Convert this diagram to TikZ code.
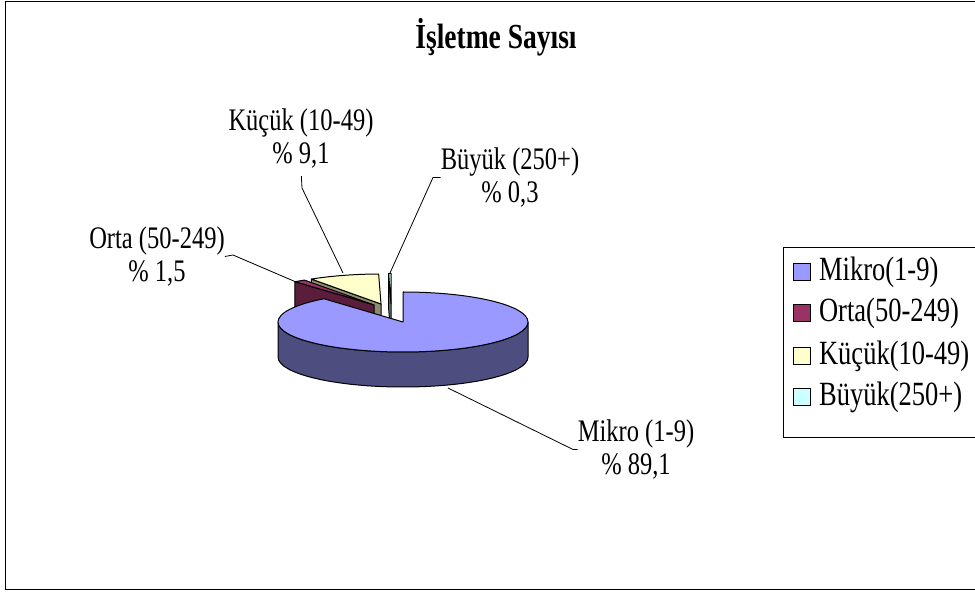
\documentclass[tikz,border=0pt]{standalone}
\usepackage{fontspec}
\setmainfont{Liberation Serif}
\usetikzlibrary{positioning}

\definecolor{mikroTop}{HTML}{9999FF}
\definecolor{mikroSide}{HTML}{4D4D80}
\definecolor{ortaTop}{HTML}{993366}
\definecolor{ortaSide}{HTML}{5A1D3C}
\definecolor{kucukTop}{HTML}{FFFFCC}
\definecolor{kucukSide}{HTML}{8C8C6E}
\definecolor{buyukTop}{HTML}{CCFFFF}
\definecolor{buyukSide}{HTML}{668080}

\begin{document}
\begin{tikzpicture}[x=1pt, y=1pt]
  \tikzstyle{slice} = [draw=black, line width=1pt, line join=round];
  \tikzstyle{leader} = [black, line width=0.8pt];
  \tikzstyle{dataLabel} = [font={\fontsize{24.5}{25.8}\selectfont}, align=center, inner sep=0pt, yscale=1.28, transform shape];
  \tikzstyle{legendKey} = [draw, line width=0.8pt, minimum size=17pt, inner sep=0pt];
  \tikzstyle{legendText} = [font={\fontsize{26.5}{28}\selectfont}, inner sep=0pt, yscale=1.28, transform shape];

  \useasboundingbox (0,0) rectangle (975,592);
  \draw[line width=1.2pt] (5.5,2.5) rectangle (990,590.5);

  \node[font={\bfseries\fontsize{27.5}{30}\selectfont}, yscale=1.28, transform shape] (title) at (496,555) {İşletme Sayısı};

  \coordinate (kucukTip) at (381,288);
  \coordinate (buyukTip) at (391,288.5);
  \coordinate (ortaTip)  at (374,287);
  \coordinate (mikroTip) at (403,270);

  \filldraw[slice, fill=kucukSide] (kucukTip) -- ++(123.84:125 and 30) -- ++(0,-35) -- ++(303.84:125 and 30) -- cycle;
  \filldraw[slice, fill=kucukTop] (kucukTip) -- ++(91.08:125 and 30) arc[start angle=91.08, end angle=123.84, x radius=125, y radius=30] -- cycle;

  \filldraw[slice, fill=buyukSide] (buyukTip) -- ++(91.08:125 and 30) -- ++(0,-35) -- ++(271.08:125 and 30) -- cycle;
  \filldraw[slice, fill=buyukTop] (buyukTip) -- ++(90:125 and 30) arc[start angle=90, end angle=91.08, x radius=125, y radius=30] -- cycle;

  \filldraw[slice, fill=ortaTop] (ortaTip) -- ++(123.84:125 and 30) arc[start angle=123.84, end angle=129.24, x radius=125, y radius=30] -- cycle;
  \filldraw[slice, fill=ortaSide] (ortaTip) -- ++(129.24:125 and 30) -- ++(0,-35) -- ++(309.24:125 and 30) -- cycle;

  \filldraw[slice, fill=mikroSide] (mikroTip) ++(-125,0) arc[start angle=180, end angle=360, x radius=125, y radius=30] -- ++(0,-35) arc[start angle=360, end angle=180, x radius=125, y radius=30] -- cycle;
  \filldraw[slice, fill=mikroTop] (mikroTip) -- ++(0,30) arc[start angle=90, end angle=-230.76, x radius=125, y radius=30] -- cycle;

  \node[dataLabel] (mikroLbl) at (636,142.5) {Mikro (1-9)\\\% 89,1};
  \node[dataLabel] (buyukLbl) at (510,414.5) {Büyük (250+)\\\% 0,3};
  \node[dataLabel] (kucukLbl) at (301,453) {Küçük (10-49)\\\% 9,1};
  \node[dataLabel] (ortaLbl)  at (157,335.5) {Orta (50-249)\\\% 1,5};

  \coordinate (mikroPt) at (448,204);
  \coordinate (mikroBend) at (573,142.5);
  \coordinate (buyukPt) at (390,319);
  \coordinate (buyukBend) at (433,414.5);
  \coordinate (kucukPt) at (343,319);
  \coordinate (kucukBend) at (302,404);
  \coordinate (ortaPt) at (296,310);
  \coordinate (ortaBend) at (233,337);

  \draw[leader] (mikroPt) -- (mikroBend) -- (mikroLbl.west);
  \draw[leader] (buyukPt) -- (buyukBend) -- (buyukLbl.west);
  \draw[leader, shorten >=7pt] (kucukPt) -- (kucukBend) -- (kucukLbl.south);
  \draw[leader] (ortaPt) -- (ortaBend) -- (ortaLbl.east);

  \draw[line width=0.8pt] (783,345) rectangle (990,155);
  \node[legendKey, fill=mikroTop] (mikroKey) at (802,320) {};
  \node[legendKey, fill=ortaTop] (ortaKey) at (802,279) {};
  \node[legendKey, fill=kucukTop] (kucukKey) at (802,236) {};
  \node[legendKey, fill=buyukTop] (buyukKey) at (802,195) {};
  \node[legendText, right=8pt of mikroKey] (mikroTxt) {Mikro(1-9)};
  \node[legendText, right=8pt of ortaKey] (ortaTxt) {Orta(50-249)};
  \node[legendText, right=8pt of kucukKey] (kucukTxt) {Küçük(10-49)};
  \node[legendText, right=8pt of buyukKey] (buyukTxt) {Büyük(250+)};
\end{tikzpicture}
\end{document}
